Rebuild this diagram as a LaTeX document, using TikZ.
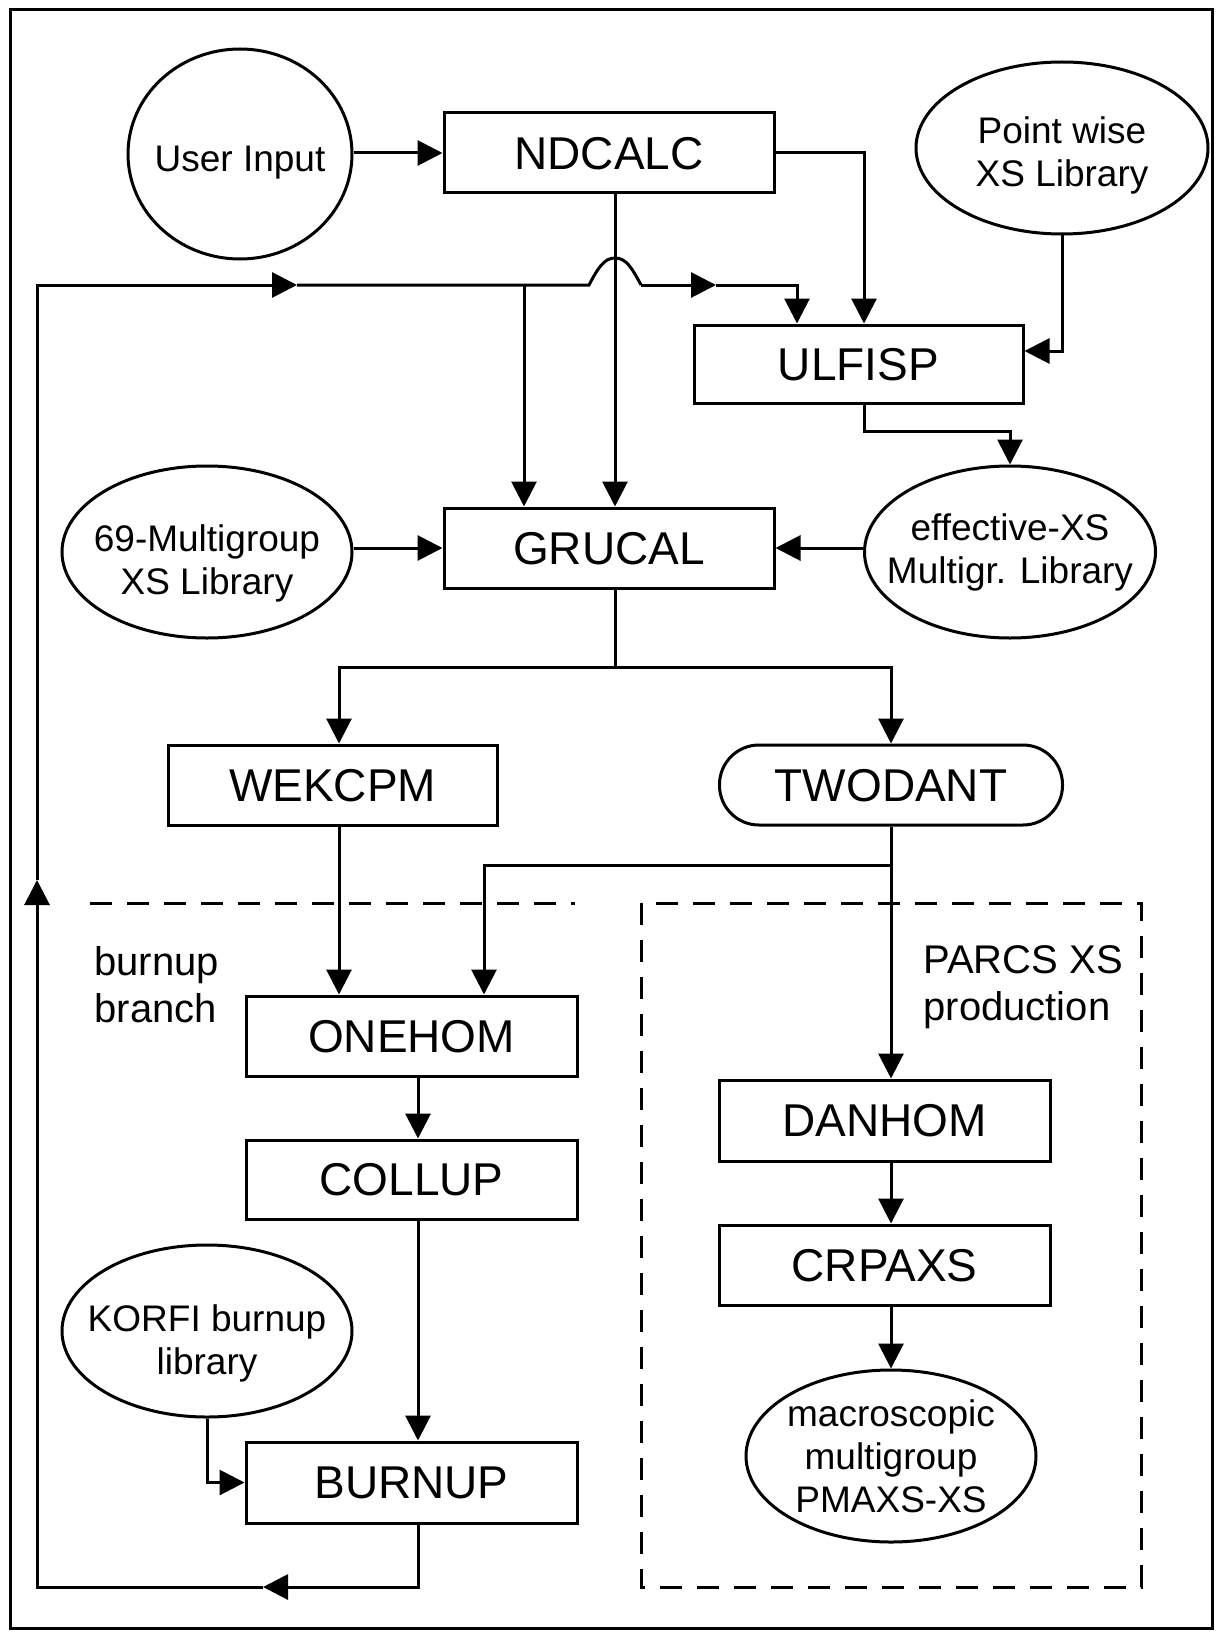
\documentclass[tikz,border=0pt]{standalone}
\usepackage{fontspec}
\setmainfont{Liberation Sans}
\usetikzlibrary{arrows.meta,shapes.geometric,calc}
\begin{document}
\begin{tikzpicture}[x=1pt,y=-1pt,line width=3pt,
  box/.style={draw,rectangle,minimum width=330pt,minimum height=80pt,inner sep=0pt,font=\fontsize{46}{52}\selectfont,text depth=-3pt},
  oval/.style={draw,ellipse,inner sep=0pt},
  ovaltext/.style={align=center,inner sep=0pt,font=\fontsize{37}{43}\selectfont},
  lab/.style={align=left,inner sep=0pt,anchor=north west,font=\fontsize{40}{47}\selectfont},
  arr/.style={-{Triangle[length=25pt,width=25pt]}},
  dashline/.style={dash pattern=on 22pt off 15pt}]
\useasboundingbox (0,0) rectangle (1219,1637);
\draw (10,10) rectangle (1212,1628);

% column coordinates
\coordinate (c339) at (339,0);
\coordinate (c418) at (418,0);
\coordinate (c484) at (484,0);
\coordinate (c524) at (524,0);
\coordinate (c615) at (615,0);
\coordinate (c797) at (797,0);
\coordinate (c864) at (864,0);
\coordinate (c891) at (891,0);

% nodes
\node[oval,minimum width=224pt,minimum height=210pt] (ui) at (240,154) {};
\node[ovaltext] (uit) at ([yshift=-9pt]ui.center) {User Input};
\node[box] (nd) at (609,153) {NDCALC};
\node[oval,minimum width=292pt,minimum height=172pt] (pw) at (1062,148) {};
\node[ovaltext] (pwt) at ([yshift=-7pt]pw.center) {Point wise\\XS Library};
\node[box,minimum width=329pt,minimum height=78pt] (ul) at (858.5,364) {ULFISP};
\node[box] (gr) at (609,548) {GRUCAL};
\node[oval,minimum width=290pt,minimum height=172pt] (mg) at (207,552) {};
\node[ovaltext] (mgt) at ([yshift=-11pt]mg.center) {69-Multigroup\\XS Library};
\node[oval,minimum width=291pt,minimum height=172pt] (eff) at (1010,552) {};
\node[ovaltext] (efft) at (eff) {effective-XS\\Multigr. Library};
\node[box,minimum width=329pt] (wek) at (332.5,785) {WEKCPM};
\node[box,minimum width=343pt,rounded corners=39.5pt] (tw) at (891,785) {TWODANT};
\node[box,minimum width=331pt] (oh) at (411.5,1036) {ONEHOM};
\node[box,minimum width=331pt,minimum height=79pt] (co) at (411.5,1179.5) {COLLUP};
\node[oval,minimum width=290pt,minimum height=172pt] (ko) at (207,1331) {};
\node[ovaltext] (kot) at ([yshift=-12pt]ko.center) {KORFI burnup\\library};
\node[box,minimum width=331pt,minimum height=81pt] (bu) at (411.5,1482.5) {BURNUP};
\node[box,minimum width=331pt,minimum height=81pt] (dh) at (884.5,1120.5) {DANHOM};
\node[box,minimum width=331pt] (cr) at (884.5,1265) {CRPAXS};
\node[oval,minimum width=290pt,minimum height=172pt] (ma) at (891,1456) {};
\node[ovaltext] (mat) at (ma) {macroscopic\\multigroup\\PMAXS-XS};

\node[lab] (bl) at (93,945) {burnup\\branch};
\node[lab] (pl) at (922,944) {PARCS XS\\production};

% dashed regions
\draw[dashline] (90,903) -- (575,903);
\draw[dashline] (641,903) rectangle (1141,1587);

% connectors
\draw[arr] (ui.east |- nd.west) -- (nd.west);
\draw[arr] (nd.east) -| (c864 |- ul.north);
\draw[arr] (pw.south) |- ($(ul.east)+(0,-13)$);
\draw[arr] (nd.south -| c615) -- (gr.north -| c615);
\draw[arr] (gr.west -| mg.east) -- (gr.west);
\draw[arr] (gr.east -| eff.west) -- (gr.east);
\draw[arr] (ul.south -| c864) -- ++(0,27) -| (eff.north);

\coordinate (sp) at (615,667);
\draw (gr.south -| c615) -- (sp);
\draw[arr] (sp) -| (c339 |- wek.north);
\draw[arr] (sp) -| (tw.north);

\draw[arr] (wek.south -| c339) -- (oh.north -| c339);
\coordinate (tj) at (891,865);
\draw (tw.south) -- (tj);
\draw[arr] (tj) -| (c484 |- oh.north);
\draw[arr] (tj) -- (tj |- dh.north);

\draw[arr] (oh.south -| c418) -- (co.north -| c418);
\draw[arr] (co.south -| c418) -- (bu.north -| c418);
\draw[arr] (ko.south) |- (bu.west);
\draw[arr] (dh.south -| c891) -- (cr.north -| c891);
\draw[arr] (cr.south -| c891) -- (ma.north);

% feedback loop
\coordinate (lb) at (418,1587);
\coordinate (ll) at (37,1587);
\coordinate (lt) at (37,285);
\coordinate (j1) at (524,285);
\coordinate (a1) at (263,1587);
\coordinate (a2) at (37,880);
\coordinate (a3) at (297,285);
\coordinate (a4) at (716,285);
\coordinate (h1) at (589,285);
\coordinate (h2) at (641,285);
\draw[arr] (bu.south -| c418) -- (lb) -- (a1);
\draw[arr] (a1) -- (ll) -- (a2);
\draw[arr] (a2) -- (lt) -- (a3);
\draw (a3) -- (j1) -- (h1) .. controls (598,268) and (604,258) .. (615,258) .. controls (626,258) and (632,268) .. (h2);
\draw[arr] (h2) -- (a4);
\draw[arr] (a4) -| (c797 |- ul.north);
\draw[arr] (j1) -- (gr.north -| c524);
\end{tikzpicture}
\end{document}
